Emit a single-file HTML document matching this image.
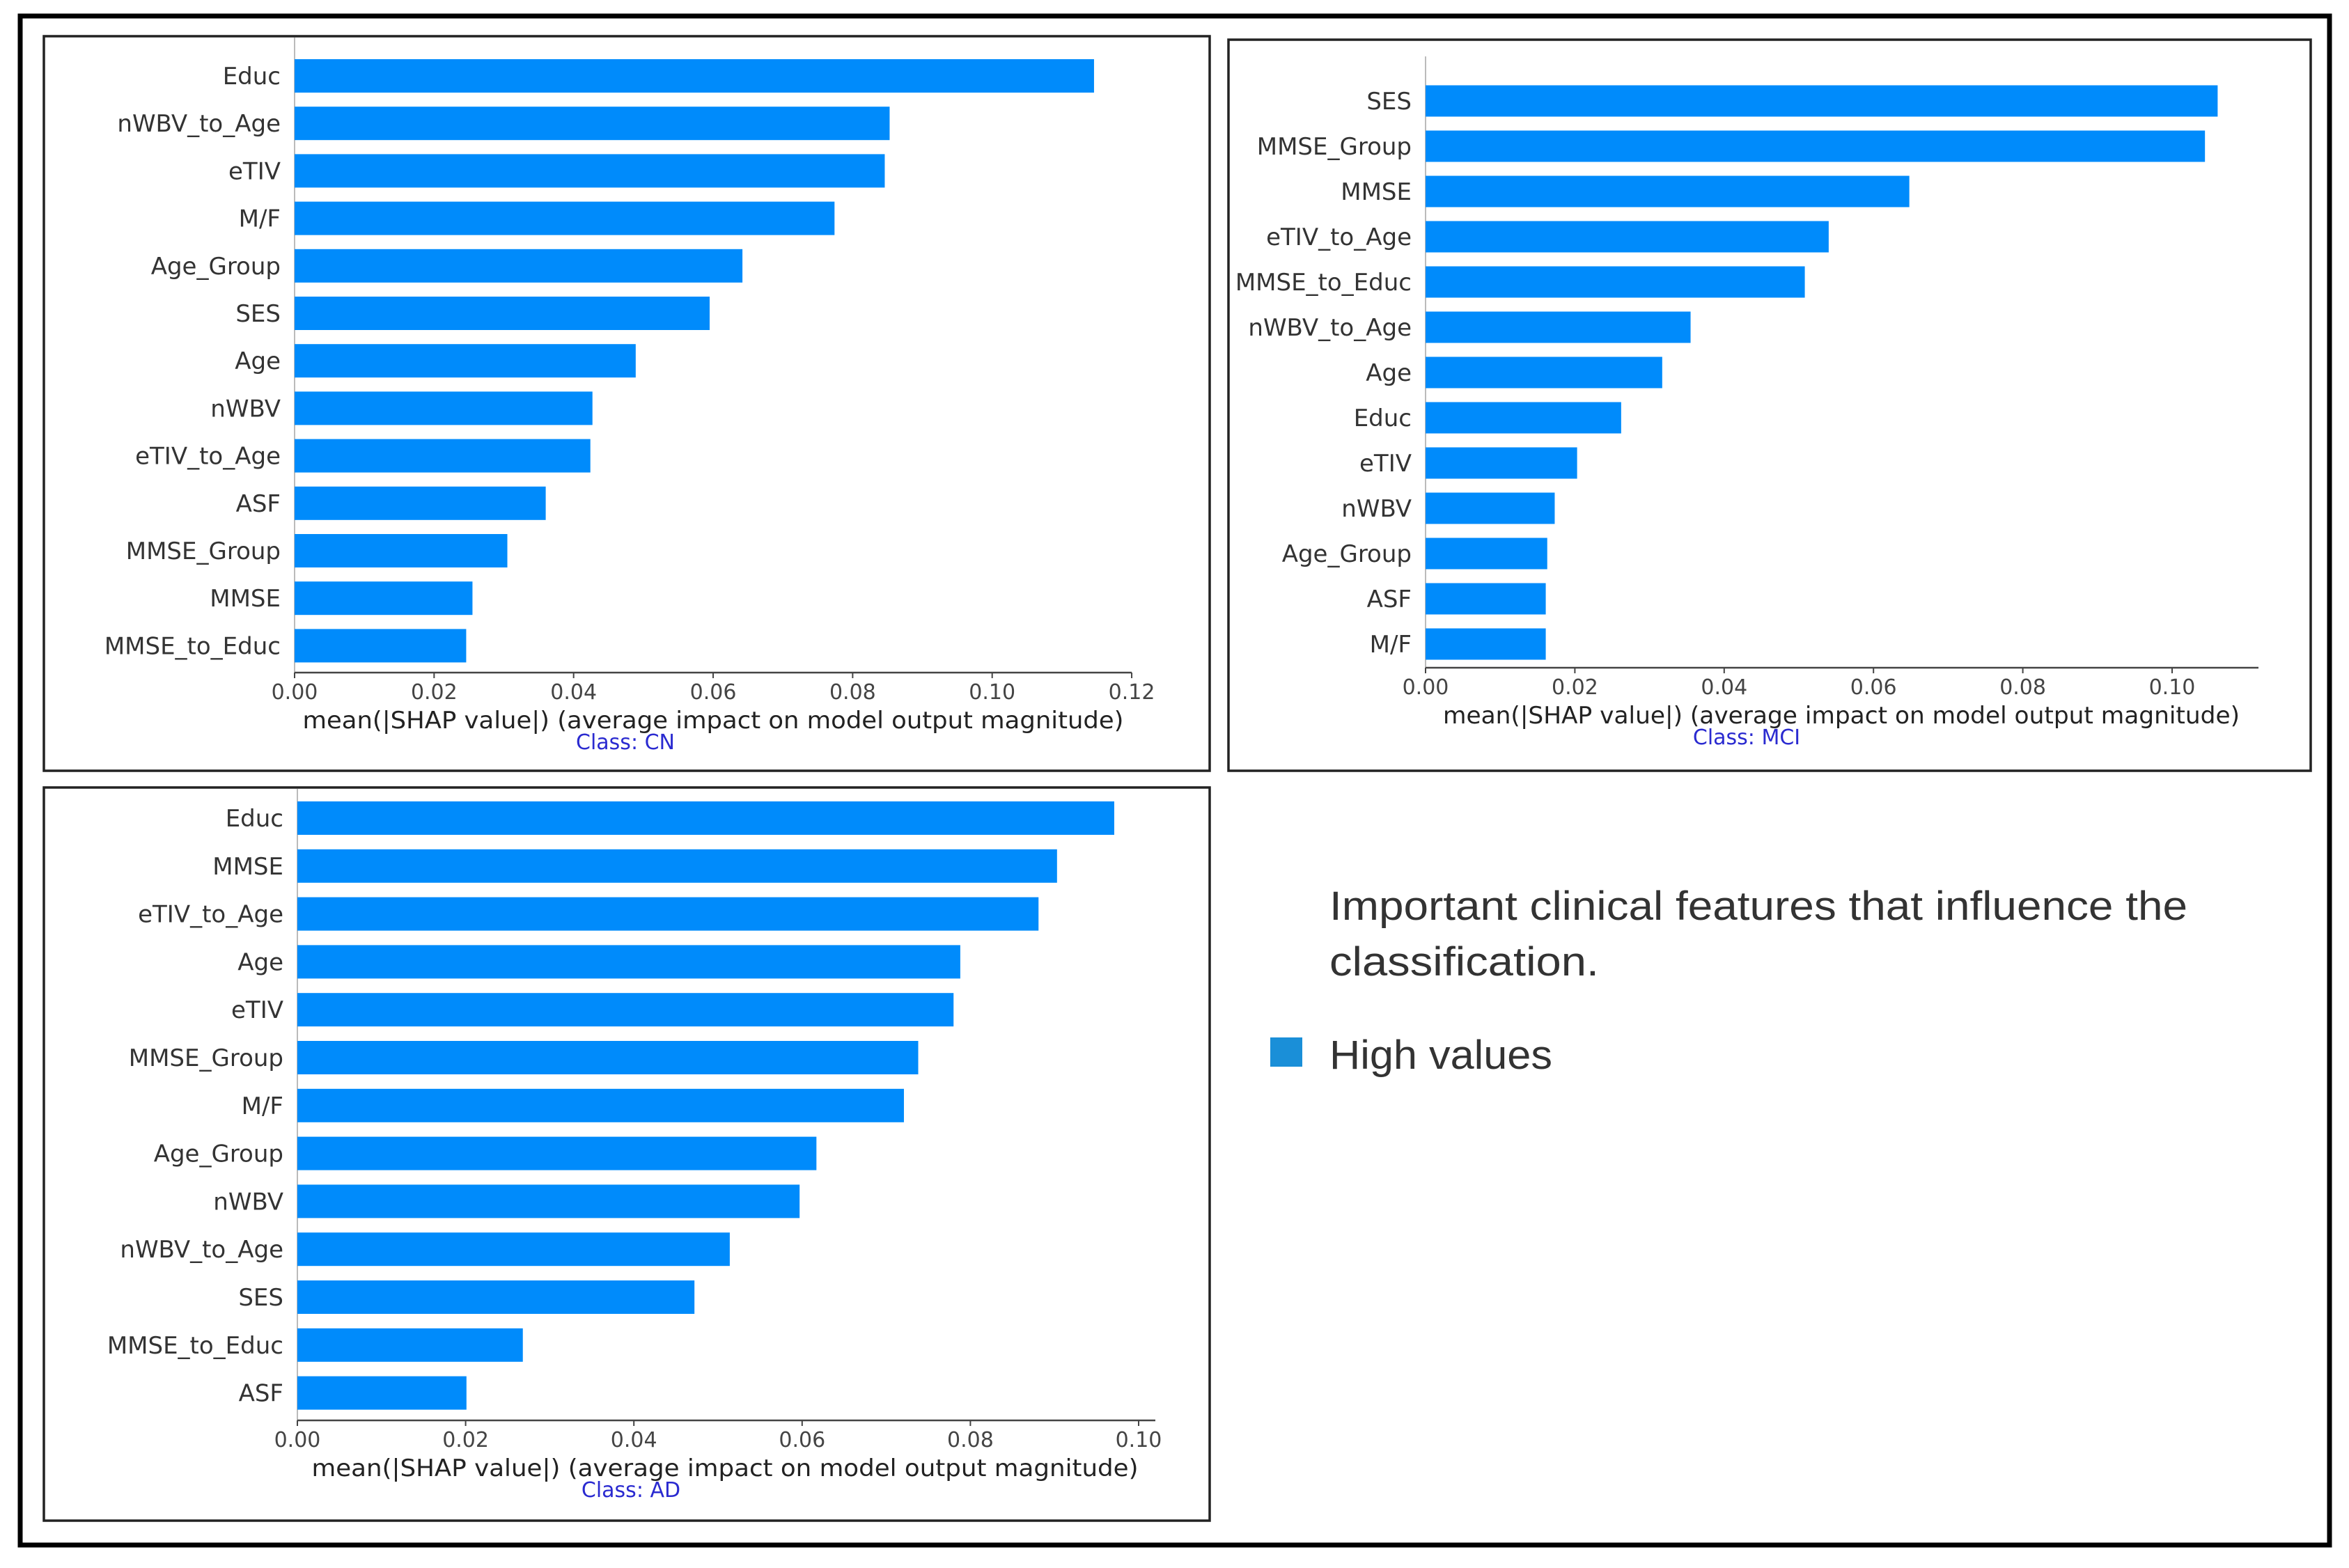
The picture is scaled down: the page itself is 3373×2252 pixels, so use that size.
<!DOCTYPE html>
<html><head><meta charset="utf-8">
<style>
html,body{margin:0;padding:0;background:#fff;}
svg{display:block;}
text{font-family:"DejaVu Sans","Liberation Sans",sans-serif;}
</style></head>
<body>
<svg id="fig" width="3373" height="2252" viewBox="0 0 3373 2252" xmlns="http://www.w3.org/2000/svg">
  <rect x="0" y="0" width="3373" height="2252" fill="#fff"/>
  <rect x="29" y="23" width="3316" height="2196" fill="none" stroke="#000" stroke-width="7"/>
  <rect x="63" y="52" width="1674" height="1055" fill="none" stroke="#222" stroke-width="3.5"/>
  <rect x="1764" y="57" width="1554" height="1050" fill="none" stroke="#222" stroke-width="3.5"/>
  <rect x="63" y="1131" width="1674" height="1053" fill="none" stroke="#222" stroke-width="3.5"/>
  <g id="cn"></g>
  <g id="mci"></g>
  <g id="ad"></g>
  <g>
    <text x="1909" y="1321" font-size="58" fill="#333" style="font-family:'Liberation Sans',sans-serif" textLength="1232" lengthAdjust="spacingAndGlyphs">Important clinical features that influence the</text>
    <text x="1909" y="1401" font-size="58" fill="#333" style="font-family:'Liberation Sans',sans-serif" textLength="387" lengthAdjust="spacingAndGlyphs">classification.</text>
    <rect x="1824" y="1490" width="46" height="42" fill="#1a8fd8"/>
    <text x="1909" y="1535" font-size="58" fill="#333" style="font-family:'Liberation Sans',sans-serif" textLength="320" lengthAdjust="spacingAndGlyphs">High values</text>
  </g>
</svg>
<script>
const cnCategories = ["Educ","nWBV_to_Age","eTIV","M/F","Age_Group","SES","Age","nWBV","eTIV_to_Age","ASF","MMSE_Group","MMSE","MMSE_to_Educ"];
const cnValues = [0.1146,0.0853,0.0846,0.0774,0.0642,0.0595,0.0489,0.0427,0.0424,0.0360,0.0305,0.0255,0.0246];
const cnTicks = ["0.00","0.02","0.04","0.06","0.08","0.10","0.12"];
const mciCategories = ["SES","MMSE_Group","MMSE","eTIV_to_Age","MMSE_to_Educ","nWBV_to_Age","Age","Educ","eTIV","nWBV","Age_Group","ASF","M/F"];
const mciValues = [0.1061,0.1044,0.0648,0.0540,0.0508,0.0355,0.0317,0.0262,0.0203,0.0173,0.0163,0.0161,0.0161];
const mciTicks = ["0.00","0.02","0.04","0.06","0.08","0.10"];
const adCategories = ["Educ","MMSE","eTIV_to_Age","Age","eTIV","MMSE_Group","M/F","Age_Group","nWBV","nWBV_to_Age","SES","MMSE_to_Educ","ASF"];
const adValues = [0.0971,0.0903,0.0881,0.0788,0.0780,0.0738,0.0721,0.0617,0.0597,0.0514,0.0472,0.0268,0.0201];
const adTicks = ["0.00","0.02","0.04","0.06","0.08","0.10"];

const NS = "http://www.w3.org/2000/svg";
function mk(tag, attrs, parent){
  const el = document.createElementNS(NS, tag);
  for (const k in attrs) el.setAttribute(k, attrs[k]);
  parent.appendChild(el);
  return el;
}
function drawChart(id, cats, vals, ticks, cfg, cls){
  const g = document.getElementById(id);
  const xs = v => cfg.x0 + v * cfg.pxPerUnit;
  const ys = i => cfg.yFirst + i * cfg.step;
  const spine = mk("line",{x1:cfg.x0,x2:cfg.x0,y1:cfg.spineTop,y2:cfg.axisY,stroke:"#bbb","stroke-width":2},g);
  
  
  cats.forEach((c,i)=>{
    const b = mk("rect",{x:cfg.x0,y:ys(i)-cfg.barH/2,width:xs(vals[i])-cfg.x0,height:cfg.barH,fill:"#008bfb"},g);
    
    
    const t = mk("text",{x:cfg.x0-20,y:ys(i)+12,"text-anchor":"end","font-size":34,fill:"#333"},g);
    t.textContent = c;
    
    
  });
  const ax = mk("line",{x1:cfg.x0,x2:cfg.axisEnd,y1:cfg.axisY,y2:cfg.axisY,stroke:"#444","stroke-width":2.5},g);
  
  
  ticks.forEach(tl=>{
    const v = parseFloat(tl);
    const tk = mk("line",{x1:xs(v),x2:xs(v),y1:cfg.axisY,y2:cfg.axisY+8,stroke:"#444","stroke-width":2},g);
    
    
    const t = mk("text",{x:xs(v),y:cfg.axisY+38,"text-anchor":"middle","font-size":30,fill:"#444"},g);
    t.textContent = tl;
    
    
  });
  const xl = mk("text",{x:cfg.xlabelX-cfg.xlabelW/2,y:cfg.axisY+80,"font-size":34,fill:"#222",textLength:cfg.xlabelW,lengthAdjust:"spacingAndGlyphs"},g);
  xl.textContent = "mean(|SHAP value|) (average impact on model output magnitude)";
  
  
  const ct = mk("text",{x:cfg.classX,y:cfg.axisY+110,"text-anchor":"middle","font-size":30,fill:"#2a2ad0"},g);
  ct.textContent = cls;
  
  
}
drawChart("cn", cnCategories, cnValues, cnTicks,
  {x0:423, pxPerUnit:10017, yFirst:109, step:68.2, barH:48, spineTop:54, axisY:966, axisEnd:1625, xlabelX:1024, xlabelW:1179, classX:898}, "Class: CN");
drawChart("mci", mciCategories, mciValues, mciTicks,
  {x0:2047, pxPerUnit:10720, yFirst:145, step:65, barH:45, spineTop:81, axisY:959, axisEnd:3243, xlabelX:2644, xlabelW:1144, classX:2508}, "Class: MCI");
drawChart("ad", adCategories, adValues, adTicks,
  {x0:427, pxPerUnit:12080, yFirst:1175, step:68.8, barH:48, spineTop:1133, axisY:2040, axisEnd:1659, xlabelX:1041, xlabelW:1187, classX:906}, "Class: AD");
</script>
</body></html>
